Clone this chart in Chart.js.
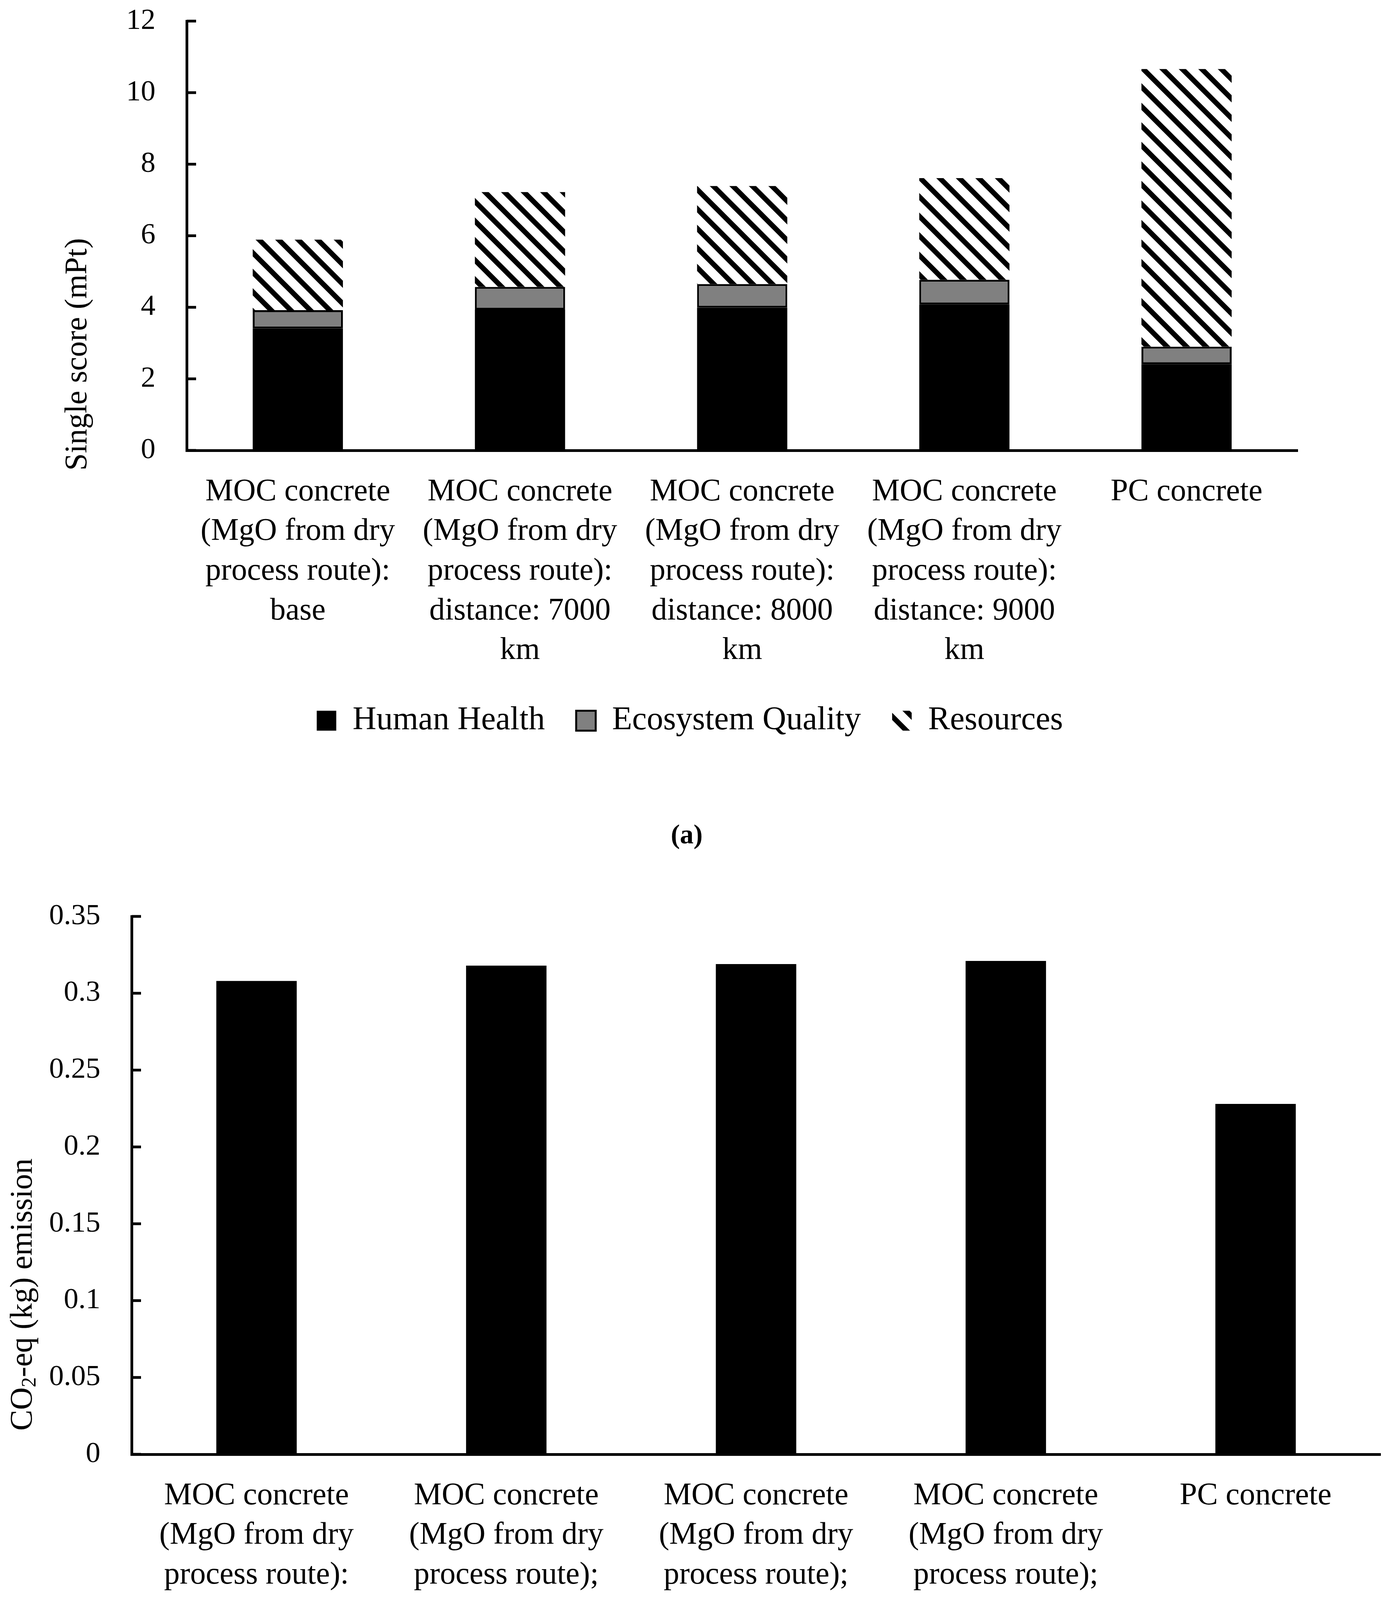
<!DOCTYPE html>
<html><head><meta charset="utf-8">
<script src="https://cdn.jsdelivr.net/npm/chart.js@4.4.0/dist/chart.umd.min.js"></script>
<style>
html,body{margin:0;padding:0;background:#fff;}
body{width:3561px;height:4489px;position:relative;overflow:hidden;font-family:'Liberation Serif',serif;}
#c1{position:absolute;left:0;top:0;}
#c2{position:absolute;left:0;top:2200px;}
.cap{position:absolute;font-family:'Liberation Serif',serif;font-weight:bold;font-size:70px;line-height:1;transform:translate(-50%,-50%);white-space:nowrap;color:#000;}
</style></head><body>
<canvas id="c1" width="3561" height="1897"></canvas>
<div class="cap" style="left:1758px;top:2136px">(a)</div>
<canvas id="c2" width="3561" height="2000"></canvas>
<div class="cap" style="left:1760px;top:4434px">(b)</div>
<script>
// ---------- data: chart (a) ----------
const categoriesA = [
  ["MOC concrete", "(MgO from dry", "process route):", "base"],
  ["MOC concrete", "(MgO from dry", "process route):", "distance: 7000", "km"],
  ["MOC concrete", "(MgO from dry", "process route):", "distance: 8000", "km"],
  ["MOC concrete", "(MgO from dry", "process route):", "distance: 9000", "km"],
  ["PC concrete"]
];
const seriesNamesA = ["Human Health", "Ecosystem Quality", "Resources"];
const humanHealth = [3.41, 3.93, 3.99, 4.08, 2.41];
const ecosystemQuality = [0.51, 0.64, 0.66, 0.69, 0.49];
const resources = [1.97, 2.65, 2.74, 2.84, 7.76];
const yTicksA = [0, 2, 4, 6, 8, 10, 12];
const yTitleA = "Single score (mPt)";

// ---------- data: chart (b) ----------
const categoriesB = [
  ["MOC concrete", "(MgO from dry", "process route):", "base"],
  ["MOC concrete", "(MgO from dry", "process route);", "distance: 7000 km"],
  ["MOC concrete", "(MgO from dry", "process route);", "distance: 8000 km"],
  ["MOC concrete", "(MgO from dry", "process route);", "distance: 9000 km"],
  ["PC concrete"]
];
const co2Emission = [0.308, 0.318, 0.319, 0.321, 0.228];
const yTicksB = [0, 0.05, 0.1, 0.15, 0.2, 0.25, 0.3, 0.35];
const yTitleBParts = [["CO", false], ["2", true], ["-eq (kg) emission", false]];

// ---------- styling ----------
const FONT = "'Liberation Serif', serif";
Chart.defaults.font.family = FONT;
Chart.defaults.color = '#000';

function makeHatch(ctx) {
  const s = 50;
  const c = document.createElement('canvas');
  c.width = s; c.height = s;
  const g = c.getContext('2d');
  g.fillStyle = '#fff'; g.fillRect(0, 0, s, s);
  g.strokeStyle = '#000'; g.lineWidth = 13;
  for (const off of [-s, 0, s]) {
    g.beginPath(); g.moveTo(off - 10, -10); g.lineTo(off + s + 10, s + 10); g.stroke();
  }
  return ctx.createPattern(c, 'repeat');
}

const innerTicks = {
  id: 'innerTicks',
  afterDraw(chart) {
    const y = chart.scales.y, ctx = chart.ctx, a = chart.chartArea;
    ctx.save();
    ctx.strokeStyle = '#000'; ctx.lineWidth = 7;
    y.ticks.forEach((t, i) => {
      const py = y.getPixelForTick(i);
      ctx.beginPath(); ctx.moveTo(a.left, py); ctx.lineTo(a.left + 24, py); ctx.stroke();
    });
    ctx.restore();
  }
};

const yTitle = {
  id: 'yTitle',
  afterDraw(chart, args, opts) {
    const ctx = chart.ctx;
    const parts = opts.parts;
    const size = opts.size;
    ctx.save();
    ctx.translate(opts.x, opts.y);
    ctx.rotate(-Math.PI / 2);
    ctx.fillStyle = '#000';
    ctx.textBaseline = 'middle';
    ctx.textAlign = 'left';
    let total = 0;
    const widths = parts.map(([t, sub]) => {
      ctx.font = (sub ? Math.round(size * 0.65) : size) + 'px ' + FONT;
      const w = ctx.measureText(t).width; total += w; return w;
    });
    let x = -total / 2;
    parts.forEach(([t, sub], i) => {
      ctx.font = (sub ? Math.round(size * 0.65) : size) + 'px ' + FONT;
      ctx.fillText(t, x, sub ? size * 0.22 : 0);
      x += widths[i];
    });
    ctx.restore();
  }
};

// ---------- chart (a) ----------
const ctx1 = document.getElementById('c1').getContext('2d');
const hatch = makeHatch(ctx1);
new Chart(ctx1, {
  type: 'bar',
  data: {
    labels: categoriesA,
    datasets: [
      { label: seriesNamesA[0], data: humanHealth, backgroundColor: '#000', borderColor: '#000', borderWidth: 0 },
      { label: seriesNamesA[1], data: ecosystemQuality, backgroundColor: '#808080', borderColor: '#000', borderWidth: 5, borderSkipped: false },
      { label: seriesNamesA[2], data: resources, backgroundColor: hatch, borderWidth: 0 }
    ]
  },
  options: {
    responsive: false, animation: false, devicePixelRatio: 1,
    datasets: { bar: { categoryPercentage: 1, barPercentage: 0.406 } },
    layout: { padding: { top: 54, right: 239, bottom: 0, left: 210 } },
    scales: {
      x: {
        stacked: true,
        grid: { display: false, drawTicks: false },
        border: { display: true, color: '#000', width: 7 },
        ticks: { font: { size: 80, lineHeight: 1.27 }, color: '#000', padding: 56, maxRotation: 0, minRotation: 0, autoSkip: false },
        afterFit: s => { s.height = 570; s.paddingLeft = 0; s.paddingRight = 0; }
      },
      y: {
        stacked: true, min: 0, max: 12,
        grid: { display: false, drawTicks: false },
        border: { display: true, color: '#000', width: 7 },
        afterBuildTicks: s => { s.ticks = yTicksA.map(v => ({ value: v })); },
        ticks: { font: { size: 75 }, color: '#000', padding: 80 },
        afterFit: s => { s.width = 268; s.paddingTop = 0; s.paddingBottom = 0; }
      }
    },
    plugins: {
      legend: {
        position: 'bottom',
        labels: { font: { size: 84 }, color: '#000', boxWidth: 50, boxHeight: 51, padding: 80 }
      },
      tooltip: { enabled: false },
      yTitle: { parts: [[yTitleA, false]], size: 80, x: 200, y: 907 }
    }
  },
  plugins: [innerTicks, yTitle]
});

// ---------- chart (b) ----------
const ctx2 = document.getElementById('c2').getContext('2d');
new Chart(ctx2, {
  type: 'bar',
  data: {
    labels: categoriesB,
    datasets: [
      { label: 'CO2-eq emission', data: co2Emission, backgroundColor: '#000', borderWidth: 0 }
    ]
  },
  options: {
    responsive: false, animation: false, devicePixelRatio: 1,
    datasets: { bar: { categoryPercentage: 1, barPercentage: 0.322 } },
    layout: { padding: { top: 146, right: 27, bottom: 0, left: 0 } },
    scales: {
      x: {
        grid: { display: false, drawTicks: false },
        border: { display: true, color: '#000', width: 7 },
        ticks: { font: { size: 80, lineHeight: 1.27 }, color: '#000', padding: 56, maxRotation: 0, minRotation: 0, autoSkip: false },
        afterFit: s => { s.height = 477; s.paddingLeft = 0; s.paddingRight = 0; }
      },
      y: {
        min: 0, max: 0.35,
        grid: { display: false, drawTicks: false },
        border: { display: true, color: '#000', width: 7 },
        afterBuildTicks: s => { s.ticks = yTicksB.map(v => ({ value: v })); },
        ticks: { font: { size: 75 }, color: '#000', padding: 80, callback: v => String(v) },
        afterFit: s => { s.width = 337; s.paddingTop = 0; s.paddingBottom = 0; }
      }
    },
    plugins: {
      legend: { display: false },
      tooltip: { enabled: false },
      yTitle: { parts: yTitleBParts, size: 80, x: 60, y: 1114 }
    }
  },
  plugins: [innerTicks, yTitle]
});
</script>
</body></html>
